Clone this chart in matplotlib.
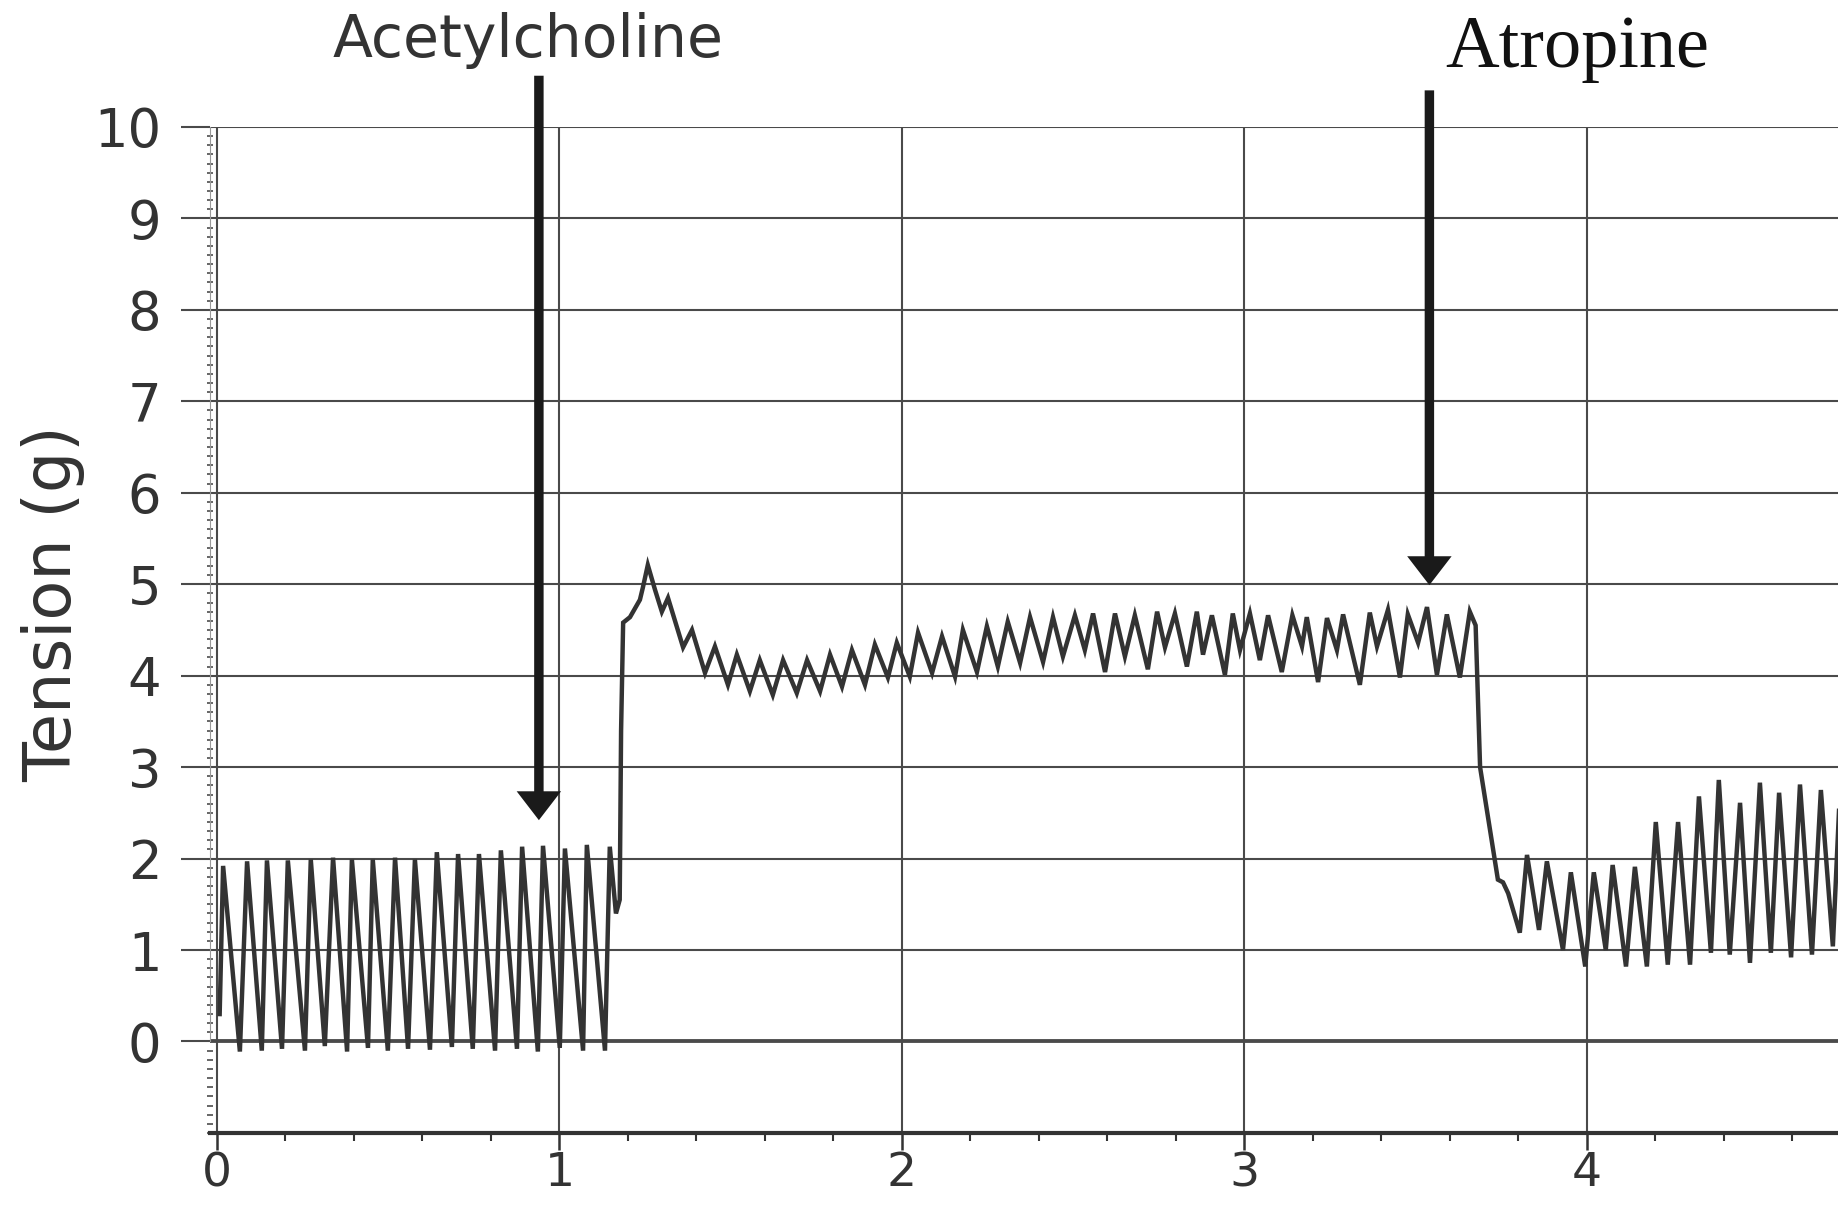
import matplotlib
matplotlib.use("Agg")
import matplotlib.pyplot as plt
from matplotlib.ticker import MultipleLocator

plt.rcParams['font.family'] = ['DejaVu Sans']

# trace: (time, tension) at each turning point
baseline_t = [0.008, 0.018, 0.067, 0.088, 0.131, 0.146, 0.190, 0.207, 0.257, 0.274,
              0.315, 0.339, 0.380, 0.394, 0.441, 0.455, 0.499, 0.520, 0.558, 0.578,
              0.622, 0.642, 0.686, 0.704, 0.747, 0.765, 0.812, 0.829, 0.876, 0.891,
              0.937, 0.952, 1.001, 1.016, 1.069, 1.080, 1.133, 1.147, 1.165]
baseline_g = [0.30, 1.92, -0.11, 1.97, -0.10, 1.98, -0.08, 1.98, -0.10, 1.99,
              -0.05, 2.01, -0.11, 1.99, -0.07, 1.99, -0.10, 2.01, -0.08, 1.99,
              -0.09, 2.07, -0.06, 2.05, -0.08, 2.05, -0.10, 2.09, -0.08, 2.13,
              -0.11, 2.14, -0.07, 2.11, -0.10, 2.15, -0.10, 2.13, 1.40]

ach_t = [1.176, 1.180, 1.186, 1.206, 1.235, 1.244, 1.258, 1.279, 1.299, 1.317,
         1.361, 1.387, 1.425, 1.454, 1.492, 1.518, 1.556, 1.585, 1.623, 1.653,
         1.693, 1.723, 1.761, 1.790, 1.825, 1.854, 1.892, 1.921, 1.959, 1.985,
         2.023, 2.047, 2.088, 2.117, 2.155, 2.178, 2.219, 2.248, 2.280, 2.309,
         2.345, 2.374, 2.412, 2.441, 2.470, 2.505, 2.534, 2.558, 2.593, 2.622,
         2.651, 2.680, 2.718, 2.745, 2.768, 2.797, 2.832, 2.861, 2.879, 2.905,
         2.943, 2.966, 2.987, 3.016, 3.045, 3.069, 3.109, 3.140, 3.168, 3.182,
         3.215, 3.241, 3.270, 3.288, 3.337, 3.366, 3.387, 3.419, 3.454, 3.477,
         3.507, 3.533, 3.562, 3.591, 3.629, 3.658, 3.675]
ach_g = [1.55, 3.40, 4.58, 4.64, 4.83, 4.97, 5.21, 4.94, 4.70, 4.85,
         4.31, 4.50, 4.03, 4.32, 3.90, 4.23, 3.83, 4.17, 3.79, 4.17,
         3.81, 4.17, 3.83, 4.23, 3.88, 4.28, 3.90, 4.34, 3.98, 4.36,
         3.99, 4.47, 4.03, 4.43, 3.99, 4.50, 4.04, 4.54, 4.10, 4.59,
         4.14, 4.64, 4.15, 4.64, 4.21, 4.66, 4.28, 4.68, 4.04, 4.68,
         4.21, 4.66, 4.07, 4.70, 4.31, 4.68, 4.10, 4.70, 4.23, 4.66,
         4.01, 4.68, 4.28, 4.68, 4.17, 4.66, 4.04, 4.66, 4.32, 4.64,
         3.93, 4.63, 4.28, 4.67, 3.90, 4.69, 4.32, 4.72, 3.98, 4.67,
         4.36, 4.75, 4.01, 4.67, 3.98, 4.70, 4.55]

atr_t = [3.688, 3.740, 3.755, 3.770, 3.804, 3.825, 3.860, 3.883, 3.930, 3.953,
         3.995, 4.020, 4.055, 4.075, 4.114, 4.140, 4.175, 4.201, 4.236, 4.266,
         4.301, 4.327, 4.362, 4.385, 4.417, 4.447, 4.476, 4.505, 4.537, 4.561,
         4.596, 4.622, 4.657, 4.683, 4.718, 4.740]
atr_g = [3.00, 1.77, 1.74, 1.62, 1.19, 2.04, 1.22, 1.97, 1.00, 1.85,
         0.82, 1.85, 1.00, 1.93, 0.82, 1.91, 0.82, 2.40, 0.84, 2.40,
         0.84, 2.68, 0.97, 2.86, 0.95, 2.61, 0.86, 2.83, 0.97, 2.72,
         0.92, 2.81, 0.95, 2.75, 1.04, 2.86]

x_ticks = [0, 1, 2, 3, 4]
y_ticks = list(range(0, 11))

# drug additions: label, time, tip height, tail height
drug_labels = ["Acetylcholine", "Atropine"]
drug_times = [0.94, 3.54]
drug_tips = [2.42, 4.99]
drug_tails = [10.56, 10.40]

time = baseline_t + ach_t + atr_t
tension = baseline_g + ach_g + atr_g

fig = plt.figure(figsize=(18.38, 12.09), dpi=100)
ax = fig.add_axes([0.1143, 0.0629, 0.8857, 0.8321])

ax.plot(time, tension, color='#333333', lw=3.2, solid_joinstyle='miter')

ax.set_xlim(-0.02, 4.733)
ax.set_ylim(-1, 10)
ax.set_xticks(x_ticks)
ax.set_yticks(y_ticks)
ax.xaxis.set_minor_locator(MultipleLocator(0.2))
ax.yaxis.set_minor_locator(MultipleLocator(0.1))

ax.grid(True, which='major', color='#4a4a4a', lw=1.5)
ax.axhline(0, color='#333333', lw=2.6, zorder=1)

for side in ['top', 'right']:
    ax.spines[side].set_visible(False)
ax.spines['bottom'].set_linewidth(3)
ax.spines['bottom'].set_color('#333333')
ax.spines['left'].set_linewidth(0.8)
ax.spines['left'].set_color('#999999')
ax.spines['left'].set_bounds(0, 10)

ax.tick_params(axis='y', which='major', length=21, width=1.5, color='#4a4a4a',
               pad=14, labelsize=38, labelcolor='#333333')
ax.tick_params(axis='y', which='minor', length=4, width=1.4, color='#666666',
               direction='inout')
ax.tick_params(axis='x', which='major', length=12, width=1.8, color='#333333',
               pad=1, labelsize=34, labelcolor='#333333')
ax.tick_params(axis='x', which='minor', length=6, width=1.5, color='#333333')

fig.text(53 / 1838, 1 - 604 / 1209, "Tension (g)", rotation=90, ha='center',
         va='center', fontsize=47, color='#333333')

for lab, t, tip, tail in zip(drug_labels, drug_times, drug_tips, drug_tails):
    ax.annotate('', xy=(t, tip), xytext=(t, tail), annotation_clip=False,
                arrowprops=dict(arrowstyle='simple,head_length=0.52,head_width=0.8,tail_width=0.17',
                                mutation_scale=40, color='#1a1a1a', lw=0,
                                shrinkA=0, shrinkB=0))

fig.text(528 / 1838, 1 - 57 / 1209, drug_labels[0], ha='center', va='baseline',
         fontsize=42, color='#333333')
fig.text(1577 / 1838, 1 - 67 / 1209, drug_labels[1], ha='center', va='baseline',
         fontsize=53.5, color='#111111', family=['Liberation Serif', 'DejaVu Serif'])

fig.savefig('out.png', dpi=100)
